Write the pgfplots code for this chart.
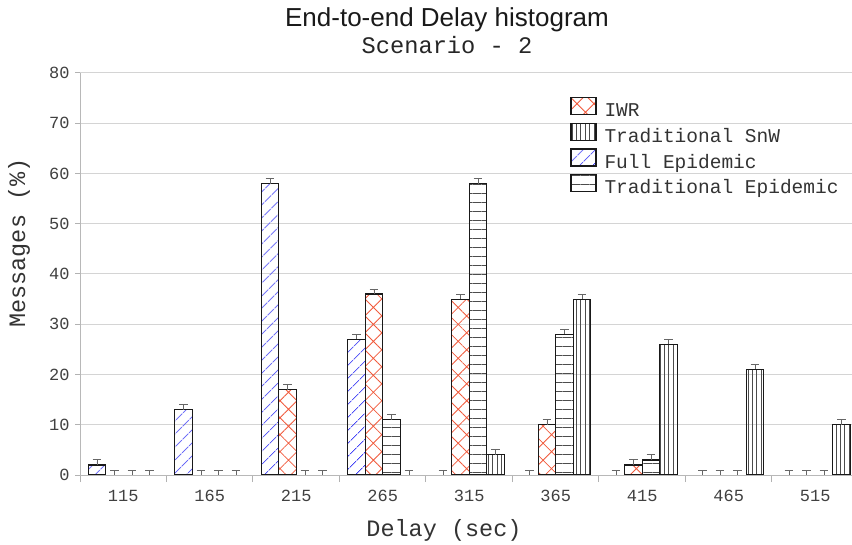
\documentclass[border=0pt]{standalone}
\usepackage{fontspec}
\setmainfont{Liberation Mono}
\newfontfamily\sansf{Liberation Sans}
\usepackage{pgfplots}
\pgfplotsset{compat=1.18}
\usetikzlibrary{patterns.meta}
\definecolor{iwrred}{RGB}{240,90,60}
\definecolor{feblue}{RGB}{60,60,245}
\pgfplotsset{
  barbase/.style={ybar, bar width=0.2023, bar shift=0pt, draw=black!90, line width=1.2bp,
    /pgfplots/error bars/y dir=plus, /pgfplots/error bars/y explicit,
    /pgfplots/error bars/error bar style={draw=black!60, line width=0.9bp},
    /pgfplots/error bars/error mark options={draw=black!60, line width=0.9bp, mark size=4.3bp, rotate=90}},
  zerobar/.style={barbase, draw=none, fill=none, forget plot},
  leg/.style={legend image code/.code={\draw[##1, line width=1.2bp] (0bp,-2.5bp) rectangle (25bp,14.5bp);}},
  pFE/.style={pattern={Lines[angle=45,distance=10bp,line width=0.9bp]}, pattern color=feblue},
  pIWR/.style={pattern={Hatch[angle=45,distance=12bp,line width=0.8bp]}, pattern color=iwrred},
  pTE/.style={pattern={Lines[angle=0,distance=9bp,line width=1bp]}, pattern color=black!70},
  pTS/.style={pattern={Lines[angle=90,distance=4.4bp,line width=0.9bp]}, pattern color=black!70},
}
\begin{document}
\begin{tikzpicture}
\useasboundingbox (0,0) rectangle (852bp,545bp);
\node[font=\sansf\fontsize{26bp}{30bp}\selectfont, anchor=base, text=black!90] at (447bp,518bp) {End-to-end Delay histogram};
\node[font=\fontsize{23.7bp}{27bp}\selectfont, anchor=base, text=black!85] at (447bp,491bp) {Scenario - 2};
\begin{axis}[
  at={(80bp,70bp)}, anchor=south west, scale only axis,
  width=772bp, height=402bp,
  xmin=-0.5, xmax=8.425, ymin=0, ymax=80,
  ytick={0,10,...,80},
  xtick={0,...,8},
  xticklabels={115,165,215,265,315,365,415,465,515},
  minor xtick={-0.5,0.5,...,7.5},
  ymajorgrids, grid style={black!17, line width=1bp},
  axis x line*=bottom, axis y line*=left,
  axis line style={black!28, line width=1bp},
  tick align=outside,
  major tick length=5bp, minor tick length=7bp,
  major x tick style={draw=none},
  minor x tick style={draw=black!30, line width=1bp},
  ytick style={draw=black!30, line width=1bp},
  tick label style={font=\fontsize{17bp}{20bp}\selectfont, text=black!75},
  xticklabel style={yshift=-7bp},
  yticklabel style={xshift=-2bp},
  /pgf/number format/assume math mode=true,
  xlabel={Delay (sec)}, ylabel={Messages (\%)},
  label style={font=\fontsize{23.5bp}{27bp}\selectfont, text=black!80},
  xlabel style={at={(axis description cs:0.4715,-0.154)}, anchor=base},
  ylabel style={at={(axis description cs:-0.079,0.577)}, anchor=center, rotate=0},
  legend style={at={(0.631,0.945)}, anchor=north west, draw=none, fill=none,
    font=\fontsize{19.5bp}{22bp}\selectfont, text=black!80,
    row sep=2bp, column sep=8bp,
    nodes={inner sep=0pt, text height=13bp, text depth=4bp}},
  legend cell align=left,
]
% IWR
\addplot[barbase, pIWR, leg] coordinates {
  (1.8988,17) +- (0,1) (2.8988,36) +- (0,1) (3.8988,35) +- (0,1) (4.8988,10) +- (0,1) (5.8988,2) +- (0,1)};
\addlegendentry{IWR}
% Traditional SnW
\addplot[barbase, pTS, leg] coordinates {
  (4.3035,4) +- (0,1) (5.3035,35) +- (0,1) (6.3035,26) +- (0,1) (7.3035,21) +- (0,1) (8.3035,10) +- (0,1)};
\addlegendentry{Traditional SnW}
% Full Epidemic
\addplot[barbase, pFE, leg] coordinates {
  (-0.3035,2) +- (0,1) (0.6965,13) +- (0,1) (1.6965,58) +- (0,1) (2.6965,27) +- (0,1)};
\addlegendentry{Full Epidemic}
% Traditional Epidemic
\addplot[barbase, pTE, leg] coordinates {
  (3.1012,11) +- (0,1) (4.1012,58) +- (0,1) (5.1012,28) +- (0,1) (6.1012,3) +- (0,1)};
\addlegendentry{Traditional Epidemic}
% zero-valued bars: only their error bars show
\addplot[zerobar] coordinates {
  (-0.1012,0) +- (0,1) (0.8988,0) +- (0,1) (6.8988,0) +- (0,1) (7.8988,0) +- (0,1)};
\addplot[zerobar] coordinates {
  (0.3035,0) +- (0,1) (1.3035,0) +- (0,1) (2.3035,0) +- (0,1) (3.3035,0) +- (0,1)};
\addplot[zerobar] coordinates {
  (3.6965,0) +- (0,1) (4.6965,0) +- (0,1) (5.6965,0) +- (0,1) (6.6965,0) +- (0,1) (7.6965,0) +- (0,1)};
\addplot[zerobar] coordinates {
  (0.1012,0) +- (0,1) (1.1012,0) +- (0,1) (2.1012,0) +- (0,1) (7.1012,0) +- (0,1) (8.1012,0) +- (0,1)};
\end{axis}
\end{tikzpicture}
\end{document}
